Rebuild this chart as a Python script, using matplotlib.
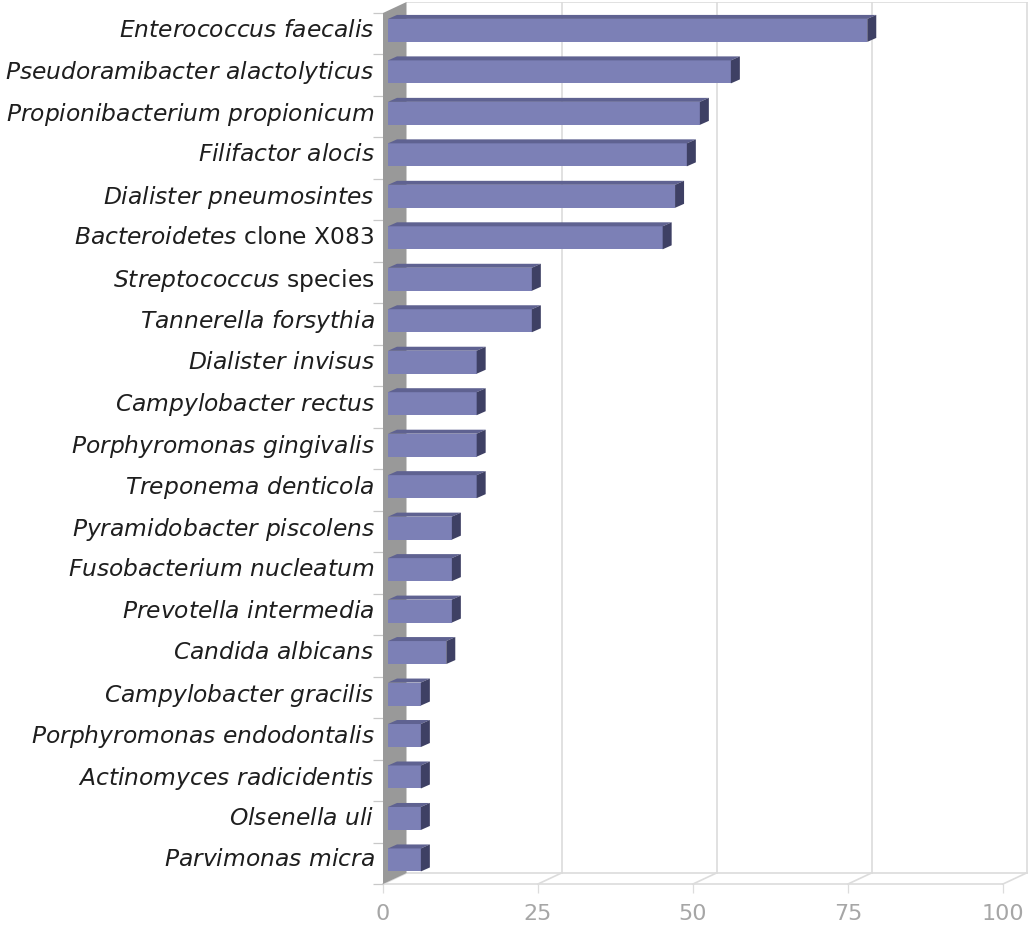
import matplotlib
matplotlib.use("Agg")
import matplotlib.pyplot as plt
from matplotlib.patches import Polygon

plt.rcParams['font.family'] = ['DejaVu Sans']
plt.rcParams['mathtext.fontset'] = 'dejavusans'

# Species (top to bottom) and their values
species = [
    r"$\mathit{Enterococcus\ faecalis}$",
    r"$\mathit{Pseudoramibacter\ alactolyticus}$",
    r"$\mathit{Propionibacterium\ propionicum}$",
    r"$\mathit{Filifactor\ alocis}$",
    r"$\mathit{Dialister\ pneumosintes}$",
    r"$\mathit{Bacteroidetes}$ clone X083",
    r"$\mathit{Streptococcus}$ species",
    r"$\mathit{Tannerella\ forsythia}$",
    r"$\mathit{Dialister\ invisus}$",
    r"$\mathit{Campylobacter\ rectus}$",
    r"$\mathit{Porphyromonas\ gingivalis}$",
    r"$\mathit{Treponema\ denticola}$",
    r"$\mathit{Pyramidobacter\ piscolens}$",
    r"$\mathit{Fusobacterium\ nucleatum}$",
    r"$\mathit{Prevotella\ intermedia}$",
    r"$\mathit{Candida\ albicans}$",
    r"$\mathit{Campylobacter\ gracilis}$",
    r"$\mathit{Porphyromonas\ endodontalis}$",
    r"$\mathit{Actinomyces\ radicidentis}$",
    r"$\mathit{Olsenella\ uli}$",
    r"$\mathit{Parvimonas\ micra}$",
]
values = [77.3, 55.3, 50.3, 48.2, 46.3, 44.3, 23.2, 23.2, 14.3, 14.3, 14.3,
          14.3, 10.3, 10.3, 10.3, 9.4, 5.3, 5.3, 5.3, 5.3, 5.3]
x_ticks = [0, 25, 50, 75, 100]

n = len(species)

# colours
FRONT = "#7c80b6"
TOP = "#5f6291"
SIDE = "#3e4064"
WALL = "#999999"
GRID = "#dcdcdc"
TICKTXT = "#a6a6a6"

fig = plt.figure(figsize=(10.3, 9.32), dpi=100)
W, H = 1030, 932
px_per_unit = 6.2
left_px, right_px = 383, 1030
top_px, bottom_px = 2, 884
ax = fig.add_axes([left_px / W, (H - bottom_px) / H,
                   (right_px - left_px) / W, (bottom_px - top_px) / H])

band_px = (bottom_px - 13) / n
ax.set_xlim(0, (right_px - left_px) / px_per_unit)
ax.set_ylim(n, -(13 - top_px) / band_px)

# oblique depth of the box (back plane offset)
dxb = 23.5 / px_per_unit
dyb = 11 / band_px
# bar placement inside the depth and bar thickness
sx = 5 / px_per_unit
bdx = 9 / px_per_unit
bdy = 4 / band_px
bar_h = 23 / band_px
bar_off = 0.42

for s in ax.spines.values():
    s.set_visible(False)

# back wall grid lines and frame
xmax = x_ticks[-1]
for v in x_ticks[1:]:
    ax.plot([v + dxb, v + dxb], [-dyb, n - dyb], color=GRID, lw=1.2, zorder=1)
ax.plot([dxb, xmax + dxb], [-dyb, -dyb], color=GRID, lw=1.2, zorder=1)
# floor
ax.plot([dxb, xmax + dxb], [n - dyb, n - dyb], color=GRID, lw=1.2, zorder=1)
ax.plot([0, xmax], [n, n], color=GRID, lw=1.2, zorder=1, clip_on=False)
for v in x_ticks:
    ax.plot([v + dxb, v], [n - dyb, n], color=GRID, lw=1.2, zorder=1, clip_on=False)

# left side wall
ax.add_patch(Polygon([(0, 0), (dxb, -dyb), (dxb, n - dyb), (0, n)],
                     closed=True, facecolor=WALL, edgecolor="none", zorder=2))

# bars: front face, top face, side face
ycent = [i + bar_off for i in range(n)]
ax.barh(ycent, values, height=bar_h, left=sx, color=FRONT,
        edgecolor="none", zorder=3)
for yc, v in zip(ycent, values):
    y0, y1 = yc - bar_h / 2, yc + bar_h / 2
    ax.add_patch(Polygon([(sx, y0), (sx + v, y0), (sx + v + bdx, y0 - bdy),
                          (sx + bdx, y0 - bdy)], closed=True,
                         facecolor=TOP, edgecolor="none", zorder=3))
    ax.add_patch(Polygon([(sx + v, y0), (sx + v + bdx, y0 - bdy),
                          (sx + v + bdx, y1 - bdy), (sx + v, y1)], closed=True,
                         facecolor=SIDE, edgecolor="none", zorder=3))

# category labels and boundary ticks
ax.set_yticks([i + 0.36 for i in range(n)])
ax.set_yticklabels(species, fontsize=16.8, color="#1e1e1e")
ax.tick_params(axis="y", which="major", length=0, pad=6)
ax.set_yticks(list(range(n + 1)), minor=True)
ax.tick_params(axis="y", which="minor", length=7.2, width=0.9, color="#c8c8c8")

# value axis
ax.set_xticks(x_ticks)
ax.set_xticklabels([str(t) for t in x_ticks], fontsize=16, color=TICKTXT)
ax.tick_params(axis="x", which="major", length=6.5, width=0.9, color=GRID, pad=8)

fig.savefig("out.png", dpi=100)
